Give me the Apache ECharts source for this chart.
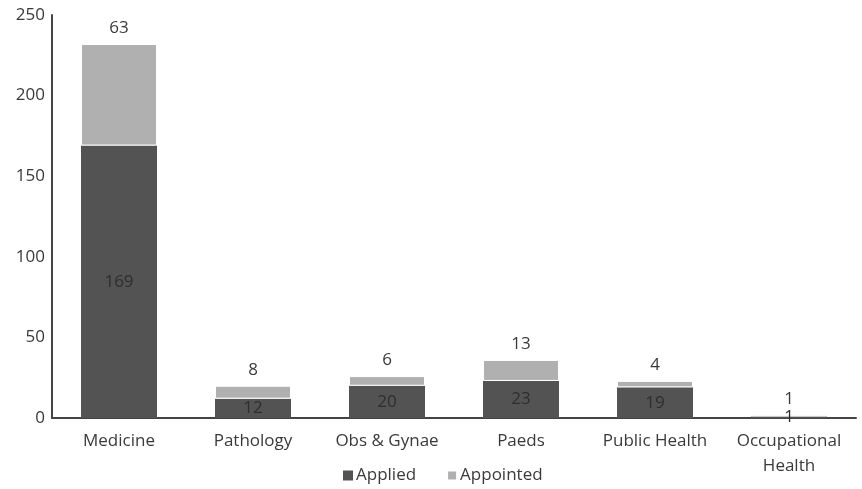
<!DOCTYPE html>
<html>
<head>
<meta charset="utf-8">
<script src="https://cdn.jsdelivr.net/npm/echarts@6/dist/echarts.min.js"></script>
<style>
  html, body { margin: 0; padding: 0; background: #fff; }
  #chart { width: 862px; height: 489px; }
</style>
</head>
<body>
<div id="chart"></div>
<script>
// Specialties and counts of applicants / appointments
const categories = ['Medicine', 'Pathology', 'Obs & Gynae', 'Paeds', 'Public Health', 'Occupational\nHealth'];
const applied = [169, 12, 20, 23, 19, 1];
const appointed = [63, 8, 6, 13, 4, 1];
const yTicks = { min: 0, max: 250, interval: 50 };

const FONT = 'Open Sans';
const TEXT = '#3a3a3a';
const SIZE = 17;

const chart = echarts.init(document.getElementById('chart'));
chart.setOption({
  animation: false,
  textStyle: { fontFamily: FONT },
  grid: { left: 52, right: 6, top: 15, bottom: 71, containLabel: false },
  legend: {
    bottom: 0,
    left: 338,
    itemWidth: 10,
    itemHeight: 10,
    itemGap: 30,
    icon: 'rect',
    textStyle: { fontFamily: FONT, fontSize: SIZE, color: TEXT, padding: [0, 0, 0, -2] },
    data: ['Applied', 'Appointed']
  },
  xAxis: {
    type: 'category',
    data: categories,
    axisLine: { lineStyle: { color: '#444', width: 2 } },
    axisTick: { show: false },
    axisLabel: { color: TEXT, fontSize: SIZE, margin: 11, lineHeight: 25, interval: 0 }
  },
  yAxis: {
    type: 'value',
    min: yTicks.min,
    max: yTicks.max,
    interval: yTicks.interval,
    axisLine: { show: true, lineStyle: { color: '#444', width: 2 } },
    axisTick: { show: false },
    splitLine: { show: false },
    axisLabel: { color: TEXT, fontSize: SIZE, margin: 7 }
  },
  series: [
    {
      name: 'Applied',
      type: 'bar',
      stack: 'total',
      data: applied,
      barWidth: 76,
      itemStyle: { color: '#535353' },
      label: { show: true, position: 'inside', color: '#2e2e2e', fontSize: SIZE, fontFamily: FONT }
    },
    {
      name: 'Appointed',
      type: 'bar',
      stack: 'total',
      data: appointed,
      barWidth: 76,
      itemStyle: { color: '#b0b0b0', borderColor: '#ffffff', borderWidth: 1 },
      label: { show: true, position: 'top', distance: 7, color: TEXT, fontSize: SIZE, fontFamily: FONT }
    }
  ]
});
</script>
</body>
</html>
